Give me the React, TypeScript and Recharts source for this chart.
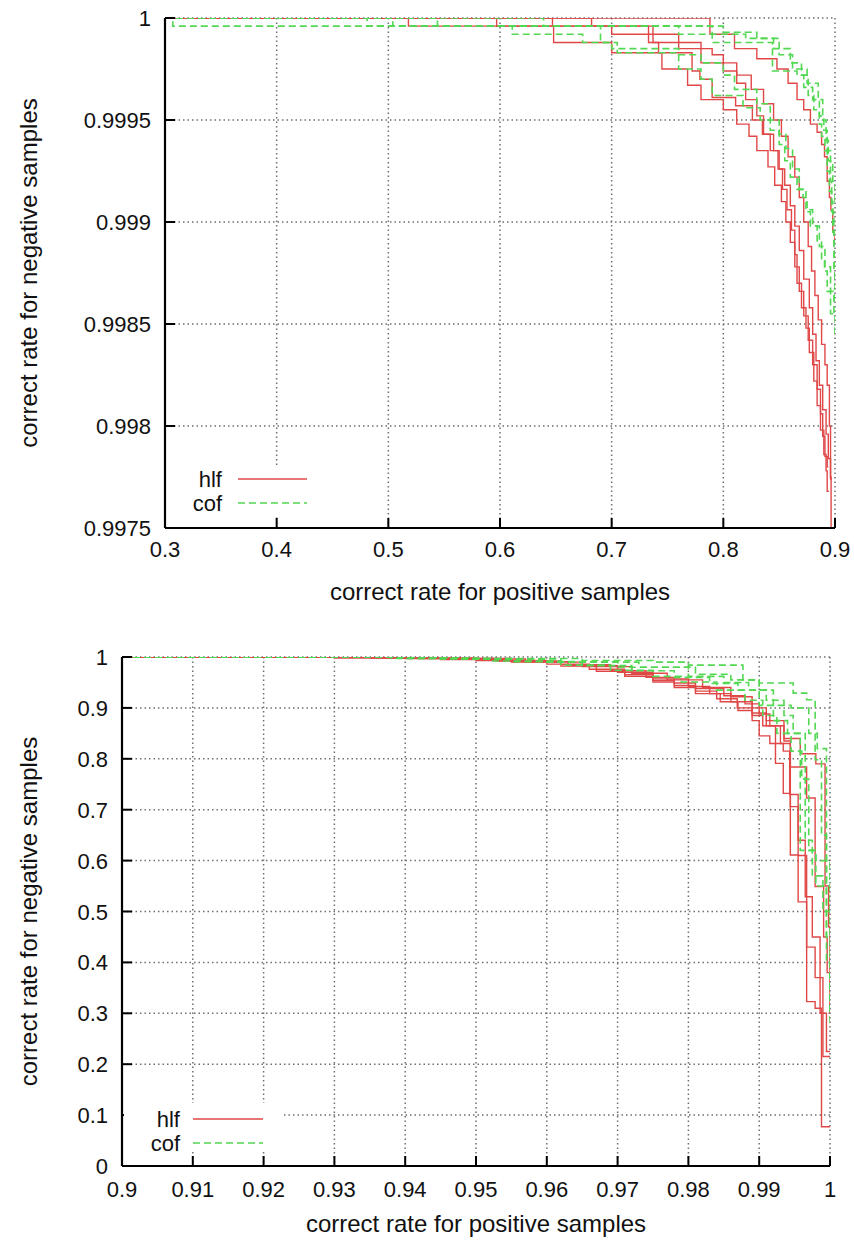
import React from 'react';
import { LineChart, Line, XAxis, YAxis, CartesianGrid, Legend } from 'recharts';

type P = [number, number];

// ---------- tick values ----------
const topXTicks = [0.3, 0.4, 0.5, 0.6, 0.7, 0.8, 0.9];
const topYTicks = [0.9975, 0.998, 0.9985, 0.999, 0.9995, 1];
const botXTicks = [0.9, 0.91, 0.92, 0.93, 0.94, 0.95, 0.96, 0.97, 0.98, 0.99, 1];
const botYTicks = [0, 0.1, 0.2, 0.3, 0.4, 0.5, 0.6, 0.7, 0.8, 0.9, 1];

const seriesNames = ['hlf', 'cof'];
const xTitle = 'correct rate for positive samples';
const yTitle = 'correct rate for negative samples';

// ---------- top chart curves (x = positive rate, y = negative rate) ----------
const topHlf1: P[] = [[0.3, 1], [0.518, 0.99996], [0.733, 0.99988], [0.742, 0.99983], [0.772, 0.99974], [0.779, 0.9997], [0.79, 0.99961], [0.811, 0.99957], [0.826, 0.9995], [0.835, 0.99943], [0.842, 0.99935], [0.849, 0.99926], [0.853, 0.99916], [0.857, 0.99906], [0.861, 0.99896], [0.864, 0.99884], [0.866, 0.9987], [0.87, 0.99858], [0.874, 0.99848], [0.877, 0.99836], [0.881, 0.99822], [0.884, 0.9981], [0.887, 0.99798], [0.89, 0.99786], [0.892, 0.99778], [0.893, 0.99768], [0.8945, 0.99768]];
const topHlf2: P[] = [[0.3, 1], [0.597, 0.99996], [0.648, 0.99988], [0.7, 0.99983], [0.745, 0.99975], [0.768, 0.99967], [0.78, 0.9996], [0.8, 0.99955], [0.812, 0.99948], [0.823, 0.99942], [0.83, 0.99935], [0.84, 0.99927], [0.846, 0.99918], [0.852, 0.9991], [0.856, 0.999], [0.86, 0.9989], [0.864, 0.99878], [0.868, 0.99866], [0.872, 0.99854], [0.876, 0.99842], [0.88, 0.9983], [0.884, 0.99818], [0.887, 0.99806], [0.889, 0.99795], [0.891, 0.99785], [0.893, 0.9978], [0.894, 0.9978]];
const topHlf3: P[] = [[0.3, 1], [0.647, 0.99996], [0.7, 0.99992], [0.76, 0.99988], [0.78, 0.99978], [0.8, 0.99974], [0.812, 0.99968], [0.82, 0.9996], [0.83, 0.99952], [0.836, 0.99943], [0.845, 0.99935], [0.85, 0.99926], [0.855, 0.99918], [0.86, 0.99908], [0.864, 0.99898], [0.868, 0.99886], [0.872, 0.99872], [0.877, 0.99858], [0.88, 0.99845], [0.883, 0.99832], [0.886, 0.9982], [0.889, 0.99808], [0.892, 0.99796], [0.894, 0.99784], [0.896, 0.99774], [0.897, 0.99774]];
const topHlf4: P[] = [[0.3, 1], [0.682, 0.99996], [0.737, 0.99988], [0.76, 0.99985], [0.79, 0.99982], [0.8, 0.99978], [0.812, 0.99972], [0.825, 0.99965], [0.836, 0.99958], [0.845, 0.9995], [0.852, 0.99942], [0.858, 0.99932], [0.864, 0.99922], [0.868, 0.99912], [0.872, 0.999], [0.876, 0.99888], [0.879, 0.99876], [0.882, 0.99864], [0.885, 0.99852], [0.888, 0.9984], [0.891, 0.9983], [0.893, 0.9982], [0.895, 0.998], [0.896, 0.99775], [0.8965, 0.9974]];
const topHlf5: P[] = [[0.3, 1], [0.788, 0.99992], [0.81, 0.99985], [0.83, 0.9998], [0.848, 0.99975], [0.858, 0.99968], [0.866, 0.9996], [0.872, 0.99955], [0.878, 0.99948], [0.884, 0.99944], [0.888, 0.99938], [0.8906, 0.99932], [0.893, 0.9992], [0.895, 0.99912], [0.8963, 0.99906], [0.898, 0.99895], [0.9, 0.9989], [0.902, 0.9985]];

const topCof1: P[] = [[0.3, 1], [0.307, 0.99996], [0.611, 0.99992], [0.674, 0.99988], [0.705, 0.99983], [0.76, 0.99975], [0.78, 0.9997], [0.79, 0.99962], [0.8176, 0.99956], [0.833, 0.9995], [0.842, 0.99945], [0.85, 0.99938], [0.855, 0.9993], [0.86, 0.99922], [0.866, 0.99916], [0.8714, 0.99912], [0.875, 0.99905], [0.878, 0.99898], [0.884, 0.9989], [0.888, 0.99882], [0.8906, 0.99876], [0.893, 0.99866], [0.896, 0.99855], [0.9, 0.99845], [0.903, 0.998]];
const topCof2: P[] = [[0.3, 1], [0.481, 0.99996], [0.69, 0.99988], [0.7, 0.99985], [0.76, 0.99982], [0.78, 0.99978], [0.8, 0.99972], [0.81, 0.99965], [0.83, 0.99958], [0.842, 0.9995], [0.85, 0.99943], [0.856, 0.99936], [0.862, 0.99926], [0.868, 0.99916], [0.874, 0.99906], [0.88, 0.99898], [0.886, 0.99888], [0.891, 0.99878], [0.896, 0.99866], [0.899, 0.99855], [0.902, 0.998]];
const topCof3: P[] = [[0.3, 1], [0.504, 0.99996], [0.79, 0.99988], [0.842, 0.99988], [0.844, 0.99974], [0.866, 0.99972], [0.872, 0.99966], [0.88, 0.9996], [0.886, 0.99948], [0.888, 0.99942], [0.891, 0.99935], [0.893, 0.99925], [0.895, 0.99915], [0.897, 0.99905], [0.899, 0.9989], [0.9, 0.9987], [0.903, 0.998]];
const topCof4: P[] = [[0.3, 1], [0.544, 0.99996], [0.76, 0.99992], [0.82, 0.9999], [0.845, 0.99985], [0.86, 0.99978], [0.87, 0.99972], [0.876, 0.99962], [0.881, 0.99955], [0.886, 0.99952], [0.89, 0.99945], [0.893, 0.99935], [0.896, 0.99928], [0.898, 0.9992], [0.9, 0.9991], [0.903, 0.9985]];
const topCof5: P[] = [[0.3, 1], [0.639, 0.99996], [0.8, 0.99993], [0.83, 0.9999], [0.85, 0.99982], [0.862, 0.99975], [0.875, 0.99968], [0.885, 0.9996], [0.889, 0.9995], [0.892, 0.9994], [0.894, 0.9993], [0.896, 0.9992], [0.897, 0.9991], [0.898, 0.99895], [0.899, 0.99875], [0.9, 0.9986], [0.902, 0.998]];

// ---------- bottom chart curves ----------
const botHlf1: P[] = [[0.9, 1], [0.93, 0.998], [0.945, 0.995], [0.955, 0.99], [0.962, 0.982], [0.967, 0.972], [0.971, 0.962], [0.975, 0.951], [0.978, 0.94], [0.981, 0.928], [0.9845, 0.912], [0.987, 0.895], [0.989, 0.875], [0.99, 0.845], [0.9915, 0.83], [0.9934, 0.815], [0.9943, 0.73], [0.9955, 0.61], [0.9967, 0.52], [0.9967, 0.323], [0.9979, 0.31], [0.9988, 0.077], [1.0, 0.077]];
const botHlf2: P[] = [[0.9, 1], [0.935, 0.998], [0.95, 0.993], [0.96, 0.986], [0.966, 0.976], [0.971, 0.965], [0.975, 0.954], [0.978, 0.944], [0.981, 0.933], [0.984, 0.918], [0.9869, 0.9], [0.989, 0.885], [0.9905, 0.865], [0.9923, 0.84], [0.9923, 0.791], [0.9934, 0.732], [0.9944, 0.611], [0.9955, 0.519], [0.9967, 0.43], [0.9979, 0.37], [0.999, 0.215], [1.0, 0.215]];
const botHlf3: P[] = [[0.9, 1], [0.94, 0.997], [0.953, 0.992], [0.962, 0.985], [0.969, 0.973], [0.974, 0.96], [0.978, 0.949], [0.981, 0.938], [0.985, 0.924], [0.988, 0.908], [0.99, 0.888], [0.9915, 0.865], [0.9935, 0.835], [0.9944, 0.784], [0.9967, 0.723], [0.9979, 0.549], [0.9991, 0.45], [0.9996, 0.38], [1.0, 0.38]];
const botHlf4: P[] = [[0.9, 1], [0.942, 0.997], [0.955, 0.991], [0.963, 0.983], [0.97, 0.97], [0.975, 0.957], [0.98, 0.942], [0.983, 0.928], [0.986, 0.912], [0.989, 0.89], [0.991, 0.865], [0.993, 0.83], [0.9944, 0.706], [0.9955, 0.64], [0.9965, 0.529], [0.9975, 0.45], [0.9986, 0.3], [0.9995, 0.225], [1.0, 0.225]];
const botHlf5: P[] = [[0.9, 1], [0.945, 0.996], [0.957, 0.99], [0.965, 0.981], [0.972, 0.968], [0.977, 0.955], [0.982, 0.94], [0.986, 0.922], [0.989, 0.9], [0.991, 0.875], [0.9935, 0.84], [0.9958, 0.81], [0.998, 0.79], [0.9993, 0.55], [0.9998, 0.47], [1.0, 0.3]];

const botCof1: P[] = [[0.9, 1], [0.95, 0.997], [0.965, 0.993], [0.975, 0.99], [0.98, 0.984], [0.9877, 0.955], [0.99, 0.949], [0.9948, 0.929], [0.9967, 0.916], [0.9979, 0.883], [0.9979, 0.798], [0.9988, 0.65], [0.9995, 0.55], [1.0, 0.5]];
const botCof2: P[] = [[0.9, 1], [0.945, 0.996], [0.96, 0.99], [0.97, 0.98], [0.98, 0.962], [0.985, 0.95], [0.9885, 0.935], [0.991, 0.915], [0.9935, 0.885], [0.9948, 0.85], [0.9958, 0.817], [0.9958, 0.62], [0.998, 0.55], [0.9995, 0.45], [1.0, 0.45]];
const botCof3: P[] = [[0.9, 1], [0.94, 0.997], [0.955, 0.991], [0.965, 0.983], [0.972, 0.973], [0.978, 0.96], [0.983, 0.948], [0.987, 0.935], [0.99, 0.905], [0.992, 0.875], [0.994, 0.85], [0.9965, 0.8], [0.9965, 0.64], [0.9975, 0.57], [0.999, 0.5], [1.0, 0.3]];
const botCof4: P[] = [[0.9, 1], [0.938, 0.997], [0.952, 0.992], [0.962, 0.984], [0.969, 0.974], [0.975, 0.962], [0.979, 0.951], [0.984, 0.935], [0.988, 0.915], [0.9905, 0.885], [0.9925, 0.85], [0.9945, 0.815], [0.996, 0.76], [0.997, 0.62], [0.998, 0.6], [0.9995, 0.4], [1.0, 0.28]];
const botCof5: P[] = [[0.9, 1], [0.948, 0.996], [0.962, 0.99], [0.973, 0.98], [0.981, 0.966], [0.986, 0.955], [0.99, 0.935], [0.992, 0.905], [0.9945, 0.9], [0.997, 0.85], [0.9982, 0.82], [0.9995, 0.6], [1.0, 0.55]];

const topHlf = [topHlf1, topHlf2, topHlf3, topHlf4, topHlf5];
const topCof = [topCof1, topCof2, topCof3, topCof4, topCof5];
const botHlf = [botHlf1, botHlf2, botHlf3, botHlf4, botHlf5];
const botCof = [botCof1, botCof2, botCof3, botCof4, botCof5];

// ---------- style ----------
const FONT = '"Liberation Sans", Arial, Helvetica, sans-serif';
const FS = 22;
const FS_TITLE = 24;
const FS_LEGEND = 22;
const RED = '#e04848';
const GREEN = '#52d852';
const DASH = '7 4';
const TICK_LEN = 10;
const TEXT = '#111';

const rows = (pts: P[]) => pts.map(([x, y]) => ({ x, y }));

const fmt = (v: number) => String(v);

const bottomTick = (labelDy: number) => (props: any) => {
  const { x, y, payload } = props;
  return (
    <g>
      <line x1={x} y1={y} x2={x} y2={y - TICK_LEN} stroke="#000" strokeWidth={2} />
      <text x={x} y={y + labelDy} textAnchor="middle" fontSize={FS} fontFamily={FONT} fill={TEXT}>
        {fmt(payload.value)}
      </text>
    </g>
  );
};
const leftTick = (gap: number) => (props: any) => {
  const { x, y, payload } = props;
  return (
    <g>
      <line x1={x} y1={y} x2={x + TICK_LEN} y2={y} stroke="#000" strokeWidth={2} />
      <text x={x - gap} y={y + 8} textAnchor="end" fontSize={FS} fontFamily={FONT} fill={TEXT}>
        {fmt(payload.value)}
      </text>
    </g>
  );
};
const topTick = (props: any) => {
  const { x, y } = props;
  return <line x1={x} y1={y} x2={x} y2={y + TICK_LEN} stroke="#000" strokeWidth={2} />;
};
const rightTick = (props: any) => {
  const { x, y } = props;
  return <line x1={x} y1={y} x2={x - TICK_LEN} y2={y} stroke="#000" strokeWidth={2} />;
};

const LegendBox = ({ w, h, textRight, lineStart, lineEnd, rowY }: { w: number; h: number; textRight: number; lineStart: number; lineEnd: number; rowY: number[] }) => (
  <div style={{ width: w, height: h, background: '#fff' }}>
    <svg width={w} height={h} style={{ display: 'block', overflow: 'visible' }}>
      {seriesNames.map((name, i) => (
        <g key={name}>
          <text x={textRight} y={rowY[i] + 8} textAnchor="end" fontSize={FS_LEGEND} fontFamily={FONT} fill={TEXT}>
            {name}
          </text>
          <line
            x1={lineStart}
            x2={lineEnd}
            y1={rowY[i]}
            y2={rowY[i]}
            stroke={i === 0 ? RED : GREEN}
            strokeWidth={1.6}
            strokeDasharray={i === 0 ? undefined : DASH}
          />
        </g>
      ))}
    </svg>
  </div>
);

type PanelProps = {
  height: number;
  margin: { top: number; right: number; bottom: number; left: number };
  yAxisWidth: number;
  xAxisHeight: number;
  xDomain: [number, number];
  yDomain: [number, number];
  xTicks: number[];
  yTicks: number[];
  hlf: P[][];
  cof: P[][];
  xLabelDy: number;
  xTitleY: number;
  yTitleX: number;
  legend: { left: number; top: number; w: number; h: number; textRight: number; lineStart: number; lineEnd: number; rowY: number[] };
};

const Panel = (p: PanelProps) => (
  <LineChart width={854} height={p.height} margin={p.margin}>
    <CartesianGrid xAxisId="b" yAxisId="l" stroke="#707070" strokeDasharray="1.5 3" strokeWidth={1.5} />
    <XAxis
      xAxisId="b"
      dataKey="x"
      type="number"
      domain={p.xDomain}
      allowDataOverflow
      ticks={p.xTicks}
      interval={0}
      height={p.xAxisHeight}
      tickSize={0}
      tickMargin={0}
      tickLine={false}
      axisLine={{ stroke: '#000', strokeWidth: 2.2 }}
      tick={bottomTick(p.xLabelDy)}
      label={{ value: xTitle, position: 'insideBottom', offset: p.xTitleY, fontSize: FS_TITLE, fontFamily: FONT, fill: TEXT }}
    />
    <XAxis
      xAxisId="t"
      dataKey="x"
      type="number"
      orientation="top"
      domain={p.xDomain}
      allowDataOverflow
      ticks={p.xTicks}
      interval={0}
      height={0}
      tickSize={0}
      tickMargin={0}
      tickLine={false}
      axisLine={{ stroke: '#000', strokeWidth: 2.2 }}
      tick={topTick}
    />
    <YAxis
      yAxisId="l"
      type="number"
      domain={p.yDomain}
      allowDataOverflow
      ticks={p.yTicks}
      interval={0}
      width={p.yAxisWidth}
      tickSize={0}
      tickMargin={0}
      tickLine={false}
      axisLine={{ stroke: '#000', strokeWidth: 2.2 }}
      tick={leftTick(14)}
      label={{ value: yTitle, angle: -90, position: 'insideLeft', offset: p.yTitleX, fontSize: FS_TITLE, fontFamily: FONT, fill: TEXT, style: { textAnchor: 'middle' } }}
    />
    <YAxis
      yAxisId="r"
      type="number"
      orientation="right"
      domain={p.yDomain}
      allowDataOverflow
      ticks={p.yTicks}
      interval={0}
      width={0}
      tickSize={0}
      tickMargin={0}
      tickLine={false}
      axisLine={{ stroke: '#000', strokeWidth: 2.2 }}
      tick={rightTick}
    />
    {p.hlf.map((c, i) => (
      <Line
        key={'h' + i}
        xAxisId="b"
        yAxisId="l"
        data={rows(c)}
        dataKey="y"
        type="stepAfter"
        stroke={RED}
        strokeWidth={1.4}
        dot={false}
        activeDot={false}
        isAnimationActive={false}
      />
    ))}
    {p.cof.map((c, i) => (
      <Line
        key={'c' + i}
        xAxisId="b"
        yAxisId="l"
        data={rows(c)}
        dataKey="y"
        type="stepAfter"
        stroke={GREEN}
        strokeWidth={1.6}
        strokeDasharray={DASH}
        dot={false}
        activeDot={false}
        isAnimationActive={false}
      />
    ))}
    <Legend
      layout="vertical"
      align="center"
      verticalAlign="middle"
      wrapperStyle={{ left: p.legend.left, top: p.legend.top, width: p.legend.w, height: p.legend.h }}
      content={() => (
        <LegendBox
          w={p.legend.w}
          h={p.legend.h}
          textRight={p.legend.textRight}
          lineStart={p.legend.lineStart}
          lineEnd={p.legend.lineEnd}
          rowY={p.legend.rowY}
        />
      )}
    />
  </LineChart>
);

export default function App() {
  return (
    <div style={{ position: 'absolute', left: 0, top: 0, width: 854, height: 1240, background: '#fff' }}>
      <Panel
        height={620}
        margin={{ top: 18, right: 19, bottom: 0, left: 0 }}
        yAxisWidth={165}
        xAxisHeight={92}
        xDomain={[0.3, 0.9]}
        yDomain={[0.9975, 1]}
        xTicks={topXTicks}
        yTicks={topYTicks}
        hlf={topHlf}
        cof={topCof}
        xLabelDy={29}
        xTitleY={20}
        yTitleX={28}
        legend={{ left: 167, top: 465, w: 155, h: 50, textRight: 55, lineStart: 71, lineEnd: 140, rowY: [14, 38] }}
      />
      <Panel
        height={620}
        margin={{ top: 37, right: 24, bottom: 0, left: 0 }}
        yAxisWidth={122}
        xAxisHeight={74}
        xDomain={[0.9, 1]}
        yDomain={[0, 1]}
        xTicks={botXTicks}
        yTicks={botYTicks}
        hlf={botHlf}
        cof={botCof}
        xLabelDy={31}
        xTitleY={8}
        yTitleX={28}
        legend={{ left: 124, top: 483, w: 160, h: 47, textRight: 56, lineStart: 69, lineEnd: 139, rowY: [16, 40] }}
      />
    </div>
  );
}
